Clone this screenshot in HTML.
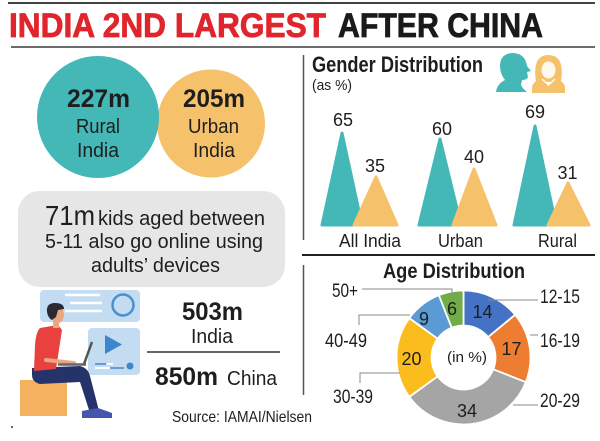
<!DOCTYPE html>
<html>
<head>
<meta charset="utf-8">
<style>
  html, body { margin: 0; padding: 0; background: #ffffff; }
  body { width: 600px; height: 441px; overflow: hidden; }
  svg { display: block; }
  text { font-family: "Liberation Sans", "DejaVu Sans", sans-serif; fill: #1e1e1e; }
</style>
</head>
<body>
<svg width="600" height="441" viewBox="0 0 600 441" xmlns="http://www.w3.org/2000/svg">
  <rect x="0" y="0" width="600" height="441" fill="#ffffff"/>

  <!-- frame lines -->
  <line x1="8" y1="3" x2="595" y2="3" stroke="#2a2a2a" stroke-width="1.8"/>
  <line x1="11" y1="47" x2="595" y2="47" stroke="#3a3a3a" stroke-width="1.6"/>
  <line x1="303.5" y1="55" x2="303.5" y2="240" stroke="#555" stroke-width="1.5"/>
  <line x1="303.5" y1="265" x2="303.5" y2="395" stroke="#555" stroke-width="1.5"/>
  <line x1="302" y1="255" x2="595" y2="255" stroke="#222" stroke-width="2"/>

  <!-- title -->
  <text x="9" y="37" font-size="34" font-weight="bold" textLength="317" lengthAdjust="spacingAndGlyphs" style="fill:#e0252d" stroke="#e0252d" stroke-width="0.8">INDIA 2ND LARGEST</text>
  <text x="338" y="37" font-size="34" font-weight="bold" textLength="205" lengthAdjust="spacingAndGlyphs" style="fill:#1a1a1a" stroke="#1a1a1a" stroke-width="0.8">AFTER CHINA</text>

  <!-- circles -->
  <circle cx="211" cy="123.5" r="54" fill="#f6c16b"/>
  <circle cx="98" cy="117" r="61" fill="#43b8b7"/>
  <text x="67" y="107" font-size="25" font-weight="bold" textLength="63" lengthAdjust="spacingAndGlyphs">227m</text>
  <text x="76" y="133" font-size="20" textLength="44" lengthAdjust="spacingAndGlyphs">Rural</text>
  <text x="77" y="157" font-size="20" textLength="42" lengthAdjust="spacingAndGlyphs">India</text>
  <text x="183" y="107" font-size="25" font-weight="bold" textLength="62" lengthAdjust="spacingAndGlyphs">205m</text>
  <text x="188" y="133" font-size="20" textLength="51" lengthAdjust="spacingAndGlyphs">Urban</text>
  <text x="193" y="157" font-size="20" textLength="42" lengthAdjust="spacingAndGlyphs">India</text>

  <!-- gray box -->
  <rect x="18" y="191" width="267" height="96" rx="22" ry="22" fill="#e6e6e6"/>
  <text x="45" y="225" font-size="28" textLength="50" lengthAdjust="spacingAndGlyphs">71m</text>
  <text x="98" y="225" font-size="20" textLength="167" lengthAdjust="spacingAndGlyphs">kids aged between</text>
  <text x="45" y="248" font-size="20" textLength="218" lengthAdjust="spacingAndGlyphs">5-11 also go online using</text>
  <text x="91" y="272" font-size="20" textLength="129" lengthAdjust="spacingAndGlyphs">adults’ devices</text>

  <!-- illustration -->
  <rect x="40" y="290" width="100" height="32" rx="4" fill="#c3dcf1"/>
  <line x1="65" y1="295" x2="100" y2="295" stroke="#fff" stroke-width="2.5"/>
  <line x1="70" y1="303" x2="102" y2="303" stroke="#fff" stroke-width="2.5"/>
  <line x1="65" y1="311" x2="102" y2="311" stroke="#fff" stroke-width="2.5"/>
  <circle cx="123" cy="305" r="10.5" fill="none" stroke="#4a8fd0" stroke-width="2.5"/>
  <rect x="88" y="328" width="52" height="47" rx="4" fill="#c3dcf1"/>
  <polygon points="105,335 105,354 122,344.5" fill="#3d85cc"/>
  <line x1="95" y1="364" x2="106" y2="364" stroke="#5b95d2" stroke-width="1.8"/>
  <line x1="107" y1="364" x2="113" y2="364" stroke="#fff" stroke-width="1.8"/>
  <line x1="95" y1="368" x2="110" y2="368" stroke="#fff" stroke-width="1.8"/>
  <line x1="110" y1="368" x2="124" y2="368" stroke="#5b95d2" stroke-width="1.8"/>
  <circle cx="130" cy="366" r="3.5" fill="#3d85cc"/>
  <rect x="20" y="380" width="47" height="36" fill="#f4b25e"/>
  <path d="M32,368 L80,366 Q88,368 90,376 L99,411 L90,413 L80,382 L40,384 Q32,382 32,375 Z" fill="#26336a"/>
  <path d="M82,411 L98,408 L112,413 L112,418 L82,418 Z" fill="#4656ad"/>
  <path d="M40,328 L58,325 L62,330 L56,369 L34,371 L35,345 Q36,332 40,328 Z" fill="#e8413f"/>
  <line x1="46" y1="360" x2="74" y2="363" stroke="#e9a884" stroke-width="4" stroke-linecap="round"/>
  <line x1="58" y1="364.5" x2="86" y2="364.5" stroke="#666" stroke-width="2.5"/>
  <line x1="84" y1="364" x2="92" y2="342" stroke="#555" stroke-width="2.5"/>
  <rect x="53" y="320" width="6" height="8" fill="#e9a884"/>
  <ellipse cx="58" cy="315" rx="6" ry="8" fill="#eaa683"/>
  <path d="M47,312 Q46,303 55,303 Q64,303 64,309 L58,310 L56,317 L52,320 Q48,318 47,312 Z" fill="#2a2a35"/>
  <circle cx="12" cy="427" r="1" fill="#333"/>

  <!-- 503m / 850m -->
  <text x="182" y="320" font-size="25" font-weight="bold" textLength="61" lengthAdjust="spacingAndGlyphs">503m</text>
  <text x="191" y="343" font-size="20" textLength="42" lengthAdjust="spacingAndGlyphs">India</text>
  <line x1="147" y1="352" x2="280" y2="352" stroke="#333" stroke-width="1.5"/>
  <text x="155" y="385" font-size="25" font-weight="bold" textLength="63" lengthAdjust="spacingAndGlyphs">850m</text>
  <text x="227" y="385" font-size="20" textLength="50" lengthAdjust="spacingAndGlyphs">China</text>
  <text x="172" y="422" font-size="16" textLength="140" lengthAdjust="spacingAndGlyphs">Source: IAMAI/Nielsen</text>

  <!-- Gender distribution -->
  <text x="312" y="72" font-size="22" font-weight="bold" textLength="171" lengthAdjust="spacingAndGlyphs">Gender Distribution</text>
  <text x="312" y="90" font-size="15" textLength="40" lengthAdjust="spacingAndGlyphs">(as %)</text>
  <!-- male icon -->
  <path d="M496,92 Q497,84 505,80 Q500,74 500,66 Q500,54 512,53 Q523,53 526,62 L527,66 L531,71 L527,72 L528,77 Q527,80 522,80 L521,85 Q523,89 527,92 Z" fill="#43b8b7"/>
  <!-- female icon -->
  <path d="M536,82 Q533,62 541,57 Q548,53 556,57 Q564,62 561,82 Z" fill="#f6c16b"/>
  <ellipse cx="548.5" cy="70" rx="7" ry="8.5" fill="#fff8ec"/>
  <path d="M541,64 Q548,58 556,65 Q552,60 548,60 Q543,60 541,64 Z" fill="#f6c16b"/>
  <path d="M532,93 L532,87 Q533,81 542,79 L548.5,85 L555,79 Q564,81 565,87 L565,93 Z" fill="#f6c16b"/>
  <path d="M542,79 L548.5,85 L555,79" fill="none" stroke="#fff" stroke-width="1.2"/>

  <g stroke-linejoin="round" stroke-width="3">
    <polygon points="322,225 342,133 362,225" fill="#43b8b7" stroke="#43b8b7"/>
    <polygon points="354,225 376,177 397,225" fill="#f6c16b" stroke="#f6c16b"/>
    <polygon points="419,225 440,139 461,225" fill="#43b8b7" stroke="#43b8b7"/>
    <polygon points="453,225 474,169 496,225" fill="#f6c16b" stroke="#f6c16b"/>
    <polygon points="514,225 535,126 556,225" fill="#43b8b7" stroke="#43b8b7"/>
    <polygon points="548,225 568,183 589,225" fill="#f6c16b" stroke="#f6c16b"/>
  </g>
  <g font-size="18" text-anchor="middle">
    <text x="343" y="126">65</text>
    <text x="375" y="172">35</text>
    <text x="442" y="135">60</text>
    <text x="474" y="163">40</text>
    <text x="535" y="118">69</text>
    <text x="567.5" y="179">31</text>
  </g>
  <text x="339" y="247" font-size="18" textLength="62" lengthAdjust="spacingAndGlyphs">All India</text>
  <text x="438" y="247" font-size="18" textLength="45" lengthAdjust="spacingAndGlyphs">Urban</text>
  <text x="538" y="247" font-size="18" textLength="39" lengthAdjust="spacingAndGlyphs">Rural</text>

  <!-- Age distribution -->
  <text x="383" y="278" font-size="21" font-weight="bold" textLength="142" lengthAdjust="spacingAndGlyphs">Age Distribution</text>
  <g stroke="#ffffff" stroke-width="1.8" stroke-linejoin="round">
    <path d="M463.5,290.5 A67,67 0 0 1 515.12,314.79 L488.16,337.10 A32,32 0 0 0 463.5,325.5 Z" fill="#4472c4"/>
    <path d="M515.12,314.79 A67,67 0 0 1 525.80,382.16 L493.25,369.28 A32,32 0 0 0 488.16,337.10 Z" fill="#ed7d31"/>
    <path d="M525.80,382.16 A67,67 0 0 1 409.30,396.88 L437.61,376.31 A32,32 0 0 0 493.25,369.28 Z" fill="#a5a5a5"/>
    <path d="M409.30,396.88 A67,67 0 0 1 409.30,318.12 L437.61,338.69 A32,32 0 0 0 437.61,376.31 Z" fill="#fbbd1e"/>
    <path d="M409.30,318.12 A67,67 0 0 1 438.84,295.20 L451.72,327.75 A32,32 0 0 0 437.61,338.69 Z" fill="#5b9bd5"/>
    <path d="M438.84,295.20 A67,67 0 0 1 463.5,290.5 L463.5,325.5 A32,32 0 0 0 451.72,327.75 Z" fill="#70ad47"/>
  </g>
  <g font-size="18" text-anchor="middle" style="fill:#222">
    <text x="482.5" y="318">14</text>
    <text x="452" y="315">6</text>
    <text x="424" y="325">9</text>
    <text x="511.5" y="355">17</text>
    <text x="411.5" y="365">20</text>
    <text x="467" y="417">34</text>
  </g>
  <text x="447" y="362" font-size="15" textLength="40" lengthAdjust="spacingAndGlyphs">(in %)</text>

  <g stroke="#8a8a8a" stroke-width="1" fill="none">
    <polyline points="362,289 452,289 452,296"/>
    <polyline points="359,325 359,315 410,315"/>
    <polyline points="360,383 360,373 400,373"/>
    <line x1="488" y1="300" x2="538" y2="300"/>
    <line x1="530" y1="335" x2="538" y2="335"/>
    <line x1="513" y1="405" x2="538" y2="405"/>
  </g>
  <g font-size="19">
    <text x="540" y="303" textLength="40" lengthAdjust="spacingAndGlyphs">12-15</text>
    <text x="540" y="347" textLength="40" lengthAdjust="spacingAndGlyphs">16-19</text>
    <text x="540" y="407" textLength="40" lengthAdjust="spacingAndGlyphs">20-29</text>
    <text x="333" y="403" textLength="40" lengthAdjust="spacingAndGlyphs">30-39</text>
    <text x="325" y="347" textLength="42" lengthAdjust="spacingAndGlyphs">40-49</text>
    <text x="332" y="297" textLength="26" lengthAdjust="spacingAndGlyphs">50+</text>
  </g>
</svg>
</body>
</html>
